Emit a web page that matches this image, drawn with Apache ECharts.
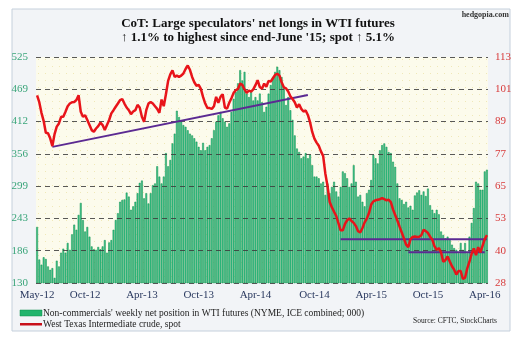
<!DOCTYPE html>
<html><head><meta charset="utf-8">
<script src="https://cdn.jsdelivr.net/npm/echarts@6/dist/echarts.min.js"></script>
<style>html,body{margin:0;padding:0;background:#fff}#c{width:526px;height:339px}</style>
</head><body><div id="c"></div>
<script>
const startDate = '2012-05-01';
const xTickLabels = ['May-12','Oct-12','Apr-13','Oct-13','Apr-14','Oct-14','Apr-15','Oct-15','Apr-16'];
const xTickIndex = [0,22,48,74,100,127,153,179,205];
const leftTicks = [130,186,243,299,356,412,469,525];
const rightTicks = [28,40,53,65,77,89,101,113];

// Non-commercials' weekly net position in WTI futures (000)
const netLongs = [
228,171,162,175,172,159,153,156,139,169,159,183,190,183,200,188,215,232,223,249,
270,240,220,228,211,194,189,188,193,189,194,205,183,201,205,223,240,252,272,275,
276,288,281,258,264,272,287,305,309,278,287,269,287,301,304,334,316,304,316,357,
334,345,374,391,431,420,412,406,403,397,391,388,383,377,368,362,375,362,368,371,
383,397,412,423,429,418,412,403,409,429,452,464,479,502,484,499,461,455,464,449,
455,449,461,446,429,438,461,476,490,499,508,502,490,473,441,455,432,415,388,365,
359,348,351,357,348,354,336,316,316,313,304,307,284,304,287,298,307,290,281,298,
325,322,313,298,304,336,307,281,284,272,264,287,293,310,354,348,339,362,371,374,
368,359,357,342,333,304,278,275,268,272,262,265,258,283,288,292,284,290,282,295,
266,258,252,258,250,220,214,208,211,205,197,191,188,182,200,188,200,182,211,235,
261,307,304,293,293,325,328
];
// West Texas Intermediate crude, spot ($)
const wtiSpot = [
98.6,96,92,89,84.5,84.3,82.4,79.5,84,86.8,88,90.5,90.5,92.4,94.5,95.5,96,96.1,96.8,98.6,
92.4,90.5,91.1,89.3,87.4,85.5,84.9,86.1,87,88.3,87.4,85.5,87.4,89.3,91.8,93,94.3,95.5,96.8,97.2,
95.5,94,93,91.5,92.5,93,95,94,90.5,88.6,93,95.5,96.1,95.5,94.5,93.5,92,97,94.5,99,
104,106.5,108,105.5,106,105.5,106,106.8,108.5,109.8,108.2,105.5,103.5,102.2,102.5,101,98,95.5,93.8,93.8,
93.5,94.5,98,95.8,98,99,94,93.6,95.8,97.5,99.5,100.5,101,103,102.5,100.8,99.5,100.4,100,100.8,
102.4,104.3,101.7,101.1,103,101.8,104,103.8,105,106.3,106.7,106,103.5,101.6,101.2,100,98.2,97.2,96,94,
95.2,93.5,92.5,92.9,91.2,88.5,84.8,82.3,80.8,79.6,77.5,75.8,69.2,64.5,58.5,56.5,54.8,53.2,50.5,47.8,
47.8,50.2,51.6,52.3,51.3,50.6,49.4,47.5,47,48.7,50.8,52.2,54.3,57.5,58.7,59.1,59.3,59.5,59.9,59.5,
59.1,59.3,58.4,55.7,53.6,51.5,49.2,47,44.8,42.4,41.5,44.5,45.3,45.5,45.3,45.4,46,48,47.5,46.8,
45.4,44.3,41.8,40.5,41.1,39.5,36,36.6,38,36.1,34.3,33,31.2,32.5,32.5,29.5,30,33.5,36,39,
41,38.5,41.5,39.5,42,44.5,46
];
// trend / support lines: [week index, spot]
const trendUp = [[7,79.2],[124,98.7]];
const supportHigh = [[139,44.5],[206,44.5]];
const supportLow = [[170,39.6],[205,39.6]];

const weeks = [];
{
  const d0 = new Date(startDate + 'T00:00:00Z');
  for (let i = 0; i < netLongs.length; i++) {
    const d = new Date(d0.getTime() + i * 7 * 86400000);
    weeks.push(d.toISOString().slice(0, 10));
  }
}

// dotted cream pattern for the plot background
const pat = document.createElement('canvas');
pat.width = 7; pat.height = 7;
{
  const g = pat.getContext('2d');
  g.fillStyle = '#fcfbec'; g.fillRect(0, 0, 7, 7);
  g.fillStyle = '#efe8b8'; g.fillRect(3, 3, 1, 1);
}

const serif = 'Liberation Serif';
const lMin = leftTicks[0], lMax = leftTicks[leftTicks.length - 1];
const rMin = rightTicks[0], rMax = rightTicks[rightTicks.length - 1];
const nInt = leftTicks.length - 1;

const chart = echarts.init(document.getElementById('c'), null, {renderer: 'canvas'});
chart.setOption({
  animation: false,
  backgroundColor: '#ffffff',
  grid: {left: 36, right: 38, top: 57, bottom: 56, show: false},
  xAxis: {
    type: 'category', data: weeks, boundaryGap: true,
    axisLine: {show: false}, axisTick: {show: false}, splitLine: {show: false},
    axisLabel: {
      interval: (i) => xTickIndex.includes(i),
      formatter: (v, i) => { const k = xTickIndex.indexOf(i); return k >= 0 ? xTickLabels[k] : ''; },
      color: '#2b3a60', fontFamily: serif, fontSize: 11, margin: 7
    }
  },
  yAxis: [
    {
      type: 'value', position: 'left', min: lMin, max: lMax, interval: (lMax - lMin) / nInt, z: 3,
      axisLine: {show: false}, axisTick: {show: false},
      splitLine: {show: true, lineStyle: {color: 'rgba(60,60,60,0.85)', type: [5, 4], width: 1}},
      axisLabel: {
        formatter: (v) => String(leftTicks[Math.round((v - lMin) / ((lMax - lMin) / nInt))]),
        color: '#3aa57a', fontFamily: serif, fontSize: 11, margin: 8
      }
    },
    {
      type: 'value', position: 'right', min: rMin, max: rMax, interval: (rMax - rMin) / nInt,
      axisLine: {show: false}, axisTick: {show: false}, splitLine: {show: false},
      axisLabel: {
        formatter: (v) => String(rightTicks[Math.round((v - rMin) / ((rMax - rMin) / nInt))]),
        color: '#d83a3a', fontFamily: serif, fontSize: 11, margin: 7
      }
    }
  ],
  series: [
    {
      type: 'bar', name: 'net', data: netLongs, yAxisIndex: 0, z: 2,
      barCategoryGap: '18%',
      itemStyle: {color: '#3cc690', borderColor: '#0f8c48', borderWidth: 0.5}
    },
    {
      type: 'line', name: 'wti', data: wtiSpot, yAxisIndex: 1, z: 5,
      symbol: 'none', lineStyle: {color: '#e8141a', width: 2.5}
    },
    {type: 'line', data: trendUp, yAxisIndex: 1, z: 4, symbol: 'none', lineStyle: {color: '#5b2a92', width: 2}},
    {type: 'line', data: supportHigh, yAxisIndex: 1, z: 4, symbol: 'none', lineStyle: {color: '#5b2a92', width: 2}},
    {type: 'line', data: supportLow, yAxisIndex: 1, z: 4, symbol: 'none', lineStyle: {color: '#5b2a92', width: 2}}
  ],
  graphic: [
    {type: 'rect', z: -100, shape: {x: 12, y: 9, width: 498, height: 322},
     style: {fill: '#f2f4f7', stroke: '#c5d0dc', lineWidth: 1}},
    {type: 'rect', z: -90, shape: {x: 36, y: 57, width: 452, height: 226},
     style: {fill: {image: pat, repeat: 'repeat'}}},
    {type: 'text', x: 258, y: 23.5, style: {text: 'CoT: Large speculators\' net longs in WTI futures',
      font: 'bold 13px "Liberation Serif"', fill: '#111', textAlign: 'center', textVerticalAlign: 'middle'}},
    {type: 'text', x: 258, y: 37.5, style: {text: '\u2191 1.1% to highest since end-June \'15; spot \u2191 5.1%',
      font: 'bold 13px "Liberation Serif"', fill: '#111', textAlign: 'center', textVerticalAlign: 'middle'}},
    {type: 'text', x: 509, y: 15, style: {text: 'hedgopia.com',
      font: 'bold 8px "Liberation Serif"', fill: '#333', textAlign: 'right', textVerticalAlign: 'middle'}},
    {type: 'rect', shape: {x: 20, y: 310, width: 22, height: 6}, style: {fill: '#22b46c', stroke: '#0f8c48', lineWidth: 0.5}},
    {type: 'text', x: 43, y: 313, style: {text: 'Non-commercials\' weekly net position in WTI futures (NYME, ICE combined; 000)',
      font: '9.5px "Liberation Serif"', fill: '#222', textVerticalAlign: 'middle'}},
    {type: 'rect', shape: {x: 20, y: 323, width: 22, height: 2.5}, style: {fill: '#c8101a'}},
    {type: 'text', x: 43, y: 324, style: {text: 'West Texas Intermediate crude, spot',
      font: '9.5px "Liberation Serif"', fill: '#222', textVerticalAlign: 'middle'}},
    {type: 'text', x: 497, y: 321, style: {text: 'Source: CFTC, StockCharts',
      font: '7.5px "Liberation Serif"', fill: '#222', textAlign: 'right', textVerticalAlign: 'middle'}}
  ]
});
</script></body></html>
